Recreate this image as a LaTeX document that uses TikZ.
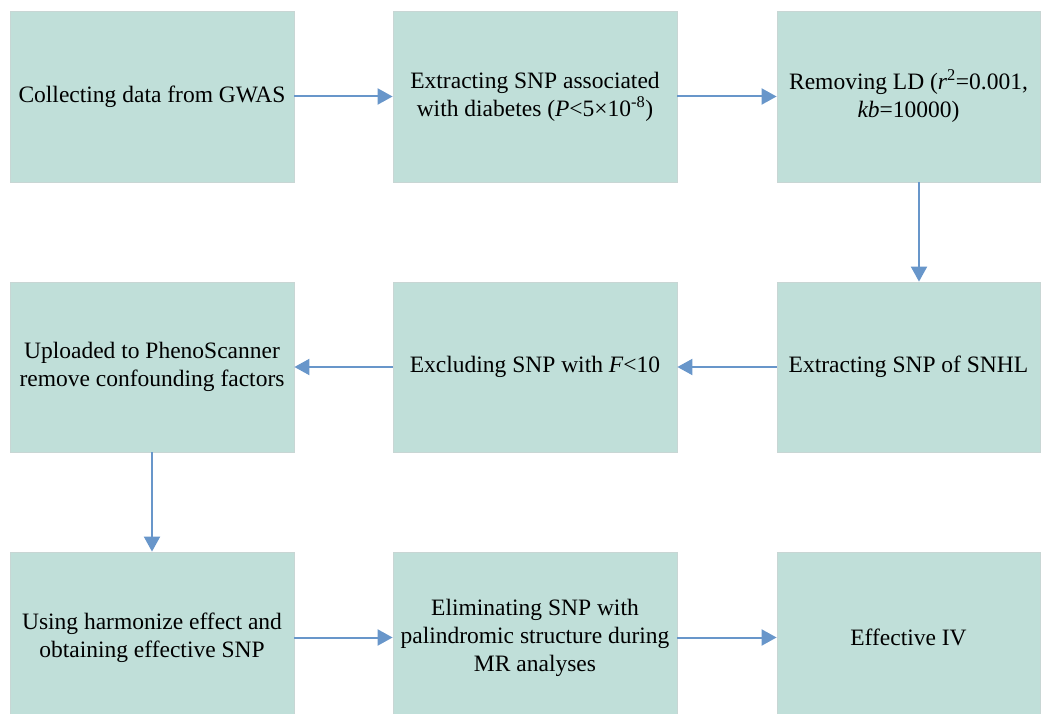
\documentclass[tikz,border=0pt]{standalone}
\usepackage{fontspec}
\setmainfont{LiberationSerif}[Extension=.ttf, UprightFont=*-Regular, ItalicFont=*-Italic, BoldFont=*-Bold, BoldItalicFont=*-BoldItalic]
\usetikzlibrary{arrows.meta}
\definecolor{boxfill}{RGB}{192,223,217}
\definecolor{boxedge}{RGB}{200,214,212}
\definecolor{arrowblue}{RGB}{104,150,202}
\begin{document}
\begin{tikzpicture}[x=1pt,y=-1pt,
  flowbox/.style={rectangle, fill=boxfill, draw=boxedge, line width=0.8pt,
    minimum height=171pt, inner sep=0pt, align=center,
    font=\fontsize{23.5}{28}\selectfont},
  widebox/.style={flowbox, minimum width=284pt},
  narrowbox/.style={flowbox, minimum width=263pt},
  flowarrow/.style={draw=arrowblue, line width=2pt,
    -{Triangle[length=15pt,width=16pt]}, arrowblue}
]
\useasboundingbox (0,0) rectangle (1050,714);
\clip (0,0) rectangle (1050,714);
\node[widebox] (b1) at (152,96.5) {Collecting data from GWAS};
\node[widebox] (b2) at (535,96.5) {Extracting SNP associated\\with diabetes (\textit{P}<5×10\textsuperscript{-8})};
\node[narrowbox] (b3) at (908.5,96.5) {Removing LD (\textit{r}\textsuperscript{2}=0.001,\\\textit{kb}=10000)};
\node[narrowbox, minimum height=170pt] (b4) at (908.5,367) {Extracting SNP of SNHL};
\node[widebox, minimum height=170pt] (b5) at (535,367) {Excluding SNP with \textit{F}<10};
\node[widebox, minimum height=170pt] (b6) at (152,367) {Uploaded to PhenoScanner\\remove confounding factors};
\node[widebox] (b7) at (152,637.5) {Using harmonize effect and\\obtaining effective SNP};
\node[widebox] (b8) at (535,637.5) {Eliminating SNP with\\palindromic structure during\\MR analyses};
\node[narrowbox] (b9) at (908.5,637.5) {Effective IV};
\draw[flowarrow] (b1.east) -- (b2.west);
\draw[flowarrow] (b2.east) -- (b3.west);
\draw[flowarrow] ([xshift=10.5pt]b3.south) -- ([xshift=10.5pt]b4.north);
\draw[flowarrow] (b4.west) -- (b5.east);
\draw[flowarrow] (b5.west) -- (b6.east);
\draw[flowarrow] (b6.south) -- (b7.north);
\draw[flowarrow] (b7.east) -- (b8.west);
\draw[flowarrow] (b8.east) -- (b9.west);
\end{tikzpicture}
\end{document}
